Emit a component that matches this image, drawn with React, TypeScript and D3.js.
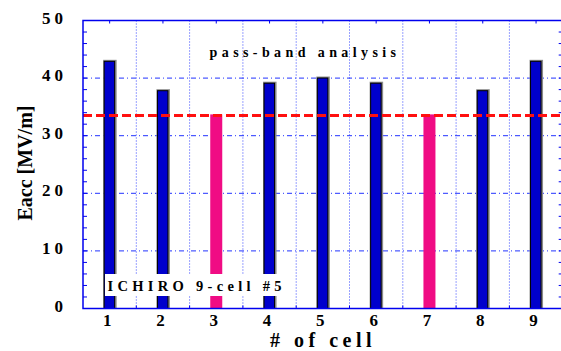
import React from 'react';
import * as d3 from 'd3';

// pass-band measurement, one bar per cell
const cells = [1, 2, 3, 4, 5, 6, 7, 8, 9];
const eacc = [43.0, 37.9, 33.7, 39.2, 40.1, 39.2, 33.7, 37.9, 43.0];
const limited = [false, false, true, false, false, false, true, false, false];
const yTicks = [0, 10, 20, 30, 40, 50];
const yMinor = d3.range(0, 51, 2);
const limitEacc = 33.5;

const W = 561;
const H = 351;
const AXIS = '#0000ee';
const serif = { fontFamily: 'Liberation Serif', fontWeight: 'bold' as const };

export default function App() {
  const x = d3.scaleLinear().domain([0.5, 9.5]).range([83, 562.7]);
  const y = d3.scaleLinear().domain([0, 50]).range([308.5, 20.5]);
  const barW = 12;
  const grid = d3.range(1.5, 9, 1);
  const [x0, x1] = x.range();
  const [y0, y1] = y.range();

  return (
    <svg width={W} height={H} style={{ position: 'fixed', left: 0, top: 0, background: '#fff' }}>
      {/* gridlines */}
      <g>
        {grid.map((g) => (
          <line
            key={'v' + g}
            x1={x(g)}
            x2={x(g)}
            y1={y1}
            y2={y0}
            stroke="#3344ff"
            strokeWidth={1}
            strokeDasharray="1,2"
          />
        ))}
        {yTicks.slice(1, -1).map((t) => (
          <line
            key={'h' + t}
            x1={x0}
            x2={x1}
            y1={y(t)}
            y2={y(t)}
            stroke="#2233ff"
            strokeWidth={1}
            strokeDasharray="5,3,1,3"
          />
        ))}
      </g>

      {/* bars */}
      <g>
        {cells.map((c, i) => {
          const bx = x(c) - barW / 2;
          const by = y(eacc[i]);
          const bh = y0 - by;
          if (limited[i]) {
            return <rect key={c} x={bx} y={by} width={barW} height={bh} fill="#f00c84" />;
          }
          return (
            <g key={c}>
              <rect x={bx - 0.5} y={by - 1} width={barW + 1.5} height={bh + 1} fill="#8a8a8a" />
              <rect
                x={bx + 0.5}
                y={by + 0.5}
                width={barW - 1.5}
                height={bh - 0.5}
                fill="#0000cc"
                stroke="#000"
                strokeWidth={1}
              />
            </g>
          );
        })}
      </g>

      {/* limit line */}
      <line
        x1={x0}
        x2={x1}
        y1={y(limitEacc)}
        y2={y(limitEacc)}
        stroke="#ff1010"
        strokeWidth={3}
        strokeDasharray="9,4"
      />

      {/* frame */}
      <rect x={x0} y={y1} width={x1 - x0} height={y0 - y1} fill="none" stroke={AXIS} strokeWidth={1.5} />
      {yMinor.map((t) => (
        <g key={'m' + t}>
          <line x1={x0} x2={x0 + 4} y1={y(t)} y2={y(t)} stroke={AXIS} strokeWidth={1} />
          <line x1={x1 - 4} x2={x1} y1={y(t)} y2={y(t)} stroke={AXIS} strokeWidth={1} />
        </g>
      ))}
      {cells.map((c) => (
        <line key={'tt' + c} x1={x(c)} x2={x(c)} y1={y1} y2={y1 + 3} stroke={AXIS} strokeWidth={1} />
      ))}
      {grid.map((g) => (
        <line key={'bt' + g} x1={x(g)} x2={x(g)} y1={y0} y2={y0 - 3} stroke={AXIS} strokeWidth={1} />
      ))}

      {/* tick labels */}
      {yTicks.map((t) => (
        <text key={'yl' + t} x={67} y={y(t) + 3} textAnchor="end" fontSize={17} letterSpacing={4} style={serif}>
          {t}
        </text>
      ))}
      {cells.map((c) => (
        <text key={'xl' + c} x={x(c) - 2.5} y={325.5} textAnchor="middle" fontSize={17} style={serif}>
          {c}
        </text>
      ))}

      {/* axis titles */}
      <text x={323} y={347} textAnchor="middle" fontSize={20} letterSpacing={4.5} style={serif}>
        # of cell
      </text>
      <text transform="translate(32,163) rotate(-90)" textAnchor="middle" fontSize={20} style={serif}>
        Eacc [MV/m]
      </text>

      {/* annotations */}
      <text x={305} y={57} textAnchor="middle" fontSize={14} letterSpacing={4.4} style={serif}>
        pass-band analysis
      </text>
      <rect x={105} y={274} width={181} height={22} fill="#fff" />
      <text x={107.5} y={290.8} fontSize={14.5} letterSpacing={4.3} style={serif}>
        ICHIRO 9-cell #5
      </text>
    </svg>
  );
}
